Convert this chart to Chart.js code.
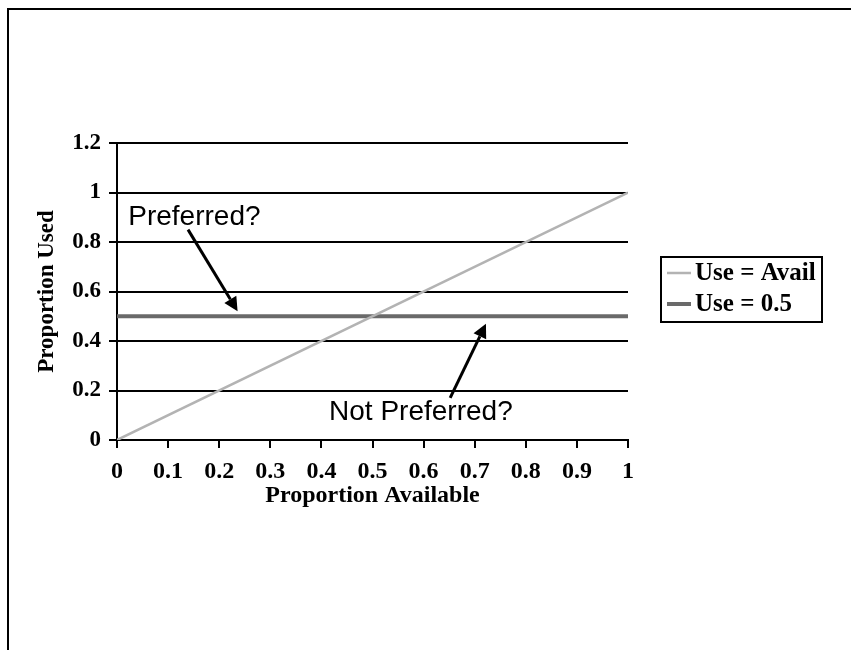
<!DOCTYPE html>
<html>
<head>
<meta charset="utf-8">
<title>Proportion Used vs Proportion Available</title>
<script src="https://cdn.jsdelivr.net/npm/chart.js@4"></script>
<style>
  html, body { margin: 0; padding: 0; background: #fff; overflow: hidden; }
  #wrap { position: relative; width: 851px; height: 650px; }
  #frame {
    position: absolute; left: 7px; top: 8px; width: 900px; height: 700px;
    border: 2px solid #000; box-sizing: border-box;
  }
  #chart { position: absolute; left: 0; top: 0; }
</style>
</head>
<body>
<div id="wrap">
  <div id="frame"></div>
  <canvas id="chart" width="851" height="650"></canvas>
</div>
<script>
// Proportion available (x) and the two reference lines
const available = [0, 1];
const useEqualsAvail = [0, 1];
const useHalf = [0.5, 0.5];
const seriesNames = ['Use = Avail', 'Use = 0.5'];
const yTicks = [0, 0.2, 0.4, 0.6, 0.8, 1, 1.2];
const xTicks = [0, 0.1, 0.2, 0.3, 0.4, 0.5, 0.6, 0.7, 0.8, 0.9, 1];

// Callout labels with arrows, in data units
const callouts = [
  { text: 'Preferred?', tx: 0.022, ty: 0.90, from: [0.139, 0.85], to: [0.236, 0.52] },
  { text: 'Not Preferred?', tx: 0.415, ty: 0.113, from: [0.652, 0.17], to: [0.722, 0.47] }
];

const serif = '"Liberation Serif", "DejaVu Serif", serif';
const sans = '"Liberation Sans", Arial, sans-serif';

function toPoints(xs, ys) {
  return xs.map((x, i) => ({ x: x, y: ys[i] }));
}

// Draws the arrows and their text on top of the plot
const calloutPlugin = {
  id: 'callouts',
  afterDatasetsDraw(chart) {
    const ctx = chart.ctx;
    const xs = chart.scales.x, ys = chart.scales.y;
    ctx.save();
    ctx.fillStyle = '#000';
    ctx.strokeStyle = '#000';
    ctx.font = '28px ' + sans;
    ctx.textBaseline = 'middle';
    ctx.textAlign = 'left';
    callouts.forEach(c => {
      ctx.fillText(c.text, xs.getPixelForValue(c.tx), ys.getPixelForValue(c.ty));
      const x1 = xs.getPixelForValue(c.from[0]), y1 = ys.getPixelForValue(c.from[1]);
      const x2 = xs.getPixelForValue(c.to[0]), y2 = ys.getPixelForValue(c.to[1]);
      const ang = Math.atan2(y2 - y1, x2 - x1);
      const head = 14, half = 7;
      const bx = x2 - head * Math.cos(ang), by = y2 - head * Math.sin(ang);
      ctx.lineWidth = 3;
      ctx.beginPath();
      ctx.moveTo(x1, y1);
      ctx.lineTo(bx, by);
      ctx.stroke();
      ctx.beginPath();
      ctx.moveTo(x2, y2);
      ctx.lineTo(bx + half * Math.sin(ang), by - half * Math.cos(ang));
      ctx.lineTo(bx - half * Math.sin(ang), by + half * Math.cos(ang));
      ctx.closePath();
      ctx.fill();
    });
    ctx.restore();
  }
};

// Boxed legend to the right of the plot
const boxLegendPlugin = {
  id: 'boxLegend',
  afterDraw(chart) {
    const ctx = chart.ctx;
    const left = 661, top = 257, w = 161, h = 65;
    ctx.save();
    ctx.strokeStyle = '#000';
    ctx.lineWidth = 2;
    ctx.strokeRect(left, top, w, h);
    ctx.font = 'bold 25px ' + serif;
    ctx.textBaseline = 'middle';
    ctx.fillStyle = '#000';
    chart.data.datasets.forEach((ds, i) => {
      const y = top + 16 + i * 31;
      ctx.strokeStyle = ds.borderColor;
      ctx.lineWidth = ds.borderWidth;
      ctx.beginPath();
      ctx.moveTo(left + 6, y);
      ctx.lineTo(left + 30, y);
      ctx.stroke();
      ctx.fillText(ds.label, left + 34, y + 1);
    });
    ctx.restore();
  }
};

new Chart(document.getElementById('chart'), {
  type: 'scatter',
  data: {
    datasets: [
      {
        label: seriesNames[0],
        data: toPoints(available, useEqualsAvail),
        showLine: true,
        borderColor: '#b3b3b3',
        borderWidth: 2.5,
        pointRadius: 0
      },
      {
        label: seriesNames[1],
        data: toPoints(available, useHalf),
        showLine: true,
        borderColor: '#6a6a6a',
        borderWidth: 4,
        pointRadius: 0
      }
    ]
  },
  options: {
    responsive: false,
    animation: false,
    layout: { padding: { left: 29, top: 143, right: 223, bottom: 136 } },
    plugins: {
      legend: { display: false },
      tooltip: { enabled: false }
    },
    scales: {
      x: {
        type: 'linear',
        min: 0,
        max: 1,
        afterBuildTicks: s => { s.ticks = xTicks.map(v => ({ value: v })); },
        afterFit: s => { s.height = 74; },
        grid: { drawOnChartArea: false, drawTicks: true, tickLength: 8, color: '#000', lineWidth: 2 },
        border: { color: '#000', width: 2 },
        ticks: {
          color: '#000',
          padding: 9,
          font: { family: serif, size: 24, weight: 'bold' },
          maxRotation: 0,
          callback: v => String(v)
        },
        title: {
          display: true,
          text: 'Proportion Available',
          color: '#000',
          padding: { top: 4, bottom: 4 },
          font: { family: serif, size: 24, weight: 'bold' }
        }
      },
      y: {
        type: 'linear',
        min: 0,
        max: 1.2,
        afterBuildTicks: s => { s.ticks = yTicks.map(v => ({ value: v })); },
        afterFit: s => { s.width = 88; },
        grid: { color: '#000', lineWidth: 2, drawTicks: true, tickLength: 8 },
        border: { color: '#000', width: 2 },
        ticks: {
          color: '#000',
          padding: 8,
          font: { family: serif, size: 23, weight: 'bold' },
          callback: v => String(v)
        },
        title: {
          display: true,
          text: 'Proportion Used',
          color: '#000',
          padding: { top: 4, bottom: 4 },
          font: { family: serif, size: 23, weight: 'bold' }
        }
      }
    }
  },
  plugins: [calloutPlugin, boxLegendPlugin]
});
</script>
</body>
</html>
